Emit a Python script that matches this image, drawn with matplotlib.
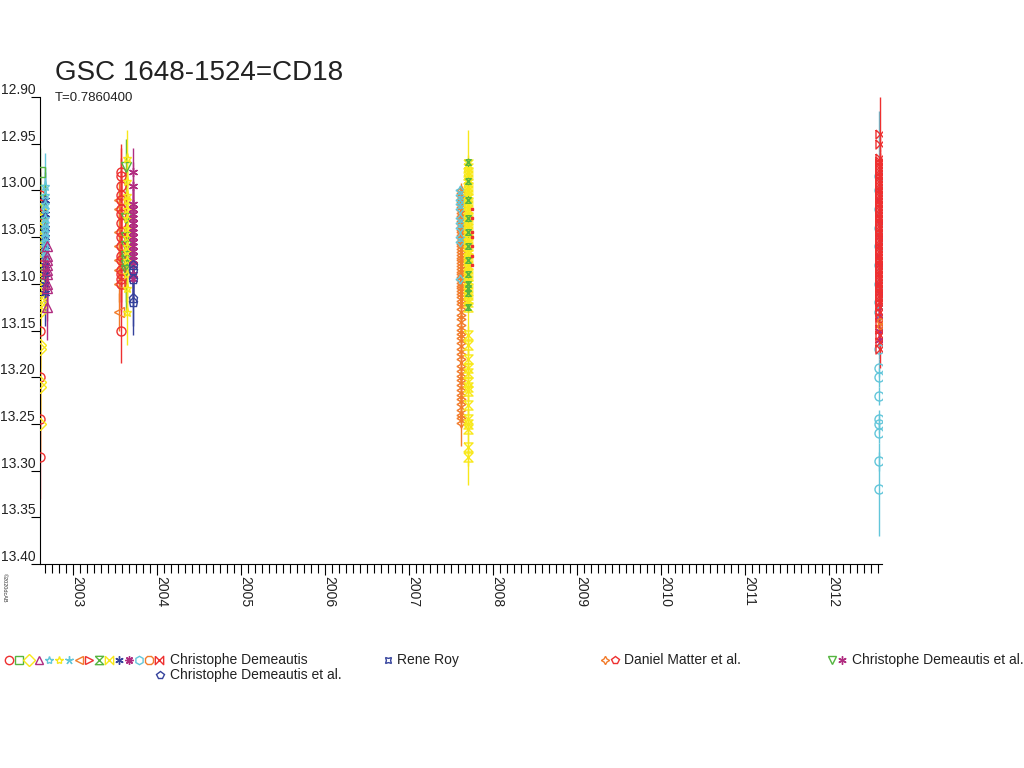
import matplotlib
matplotlib.use("Agg")
import matplotlib.pyplot as plt
import matplotlib.transforms as mtransforms
from matplotlib.lines import Line2D
from matplotlib.ticker import MultipleLocator, FixedLocator
from matplotlib.path import Path

plt.rcParams['font.family'] = ['Liberation Sans', 'DejaVu Sans']

TITLE = "GSC 1648-1524=CD18"
SUBTITLE = "T=0.7860400"
YTICKS = [12.90, 12.95, 13.00, 13.05, 13.10, 13.15, 13.20, 13.25, 13.30, 13.35, 13.40]
XYEARS = [2003, 2004, 2005, 2006, 2007, 2008, 2009, 2010, 2011, 2012]

# ---- colours
RED = '#ee3030'
GREEN = '#55b540'
YELLOW = '#f8e81a'
PURPLE = '#b02c80'
CYAN = '#62c6da'
BLUE = '#34429c'
ORANGE = '#f27c2c'

HOURGLASS = Path([(-1, 1), (1, 1), (-1, -1), (1, -1), (-1, 1)], closed=False)
BOWTIE = Path([(-1, 1), (-1, -1), (1, 1), (1, -1), (-1, 1)], closed=False)
ASTER = (6, 2, 0)
STAR4 = (4, 1, 0)

# ---- data: (date, magnitude, error) per series
# season 2002
c1_red_t = 2002.608
c1_red_m = [13.005, 13.015, 13.025, 13.035, 13.045, 13.06, 13.07, 13.09, 13.105, 13.15, 13.20, 13.245, 13.285]
c1_red_e = [0.03, 0.03, 0.03, 0.03, 0.03, 0.03, 0.03, 0.03, 0.03, 0.04, 0.04, 0.04, 0.045]

c1_grn_t = 2002.609
c1_grn_m = [12.98, 13.00, 13.01, 13.02, 13.035, 13.05, 13.06, 13.075, 13.09]
c1_grn_e = [0.025, 0.02, 0.02, 0.02, 0.02, 0.02, 0.02, 0.02, 0.02]

c1_yel_t = 2002.612
c1_yel_m = [13.02, 13.03, 13.04, 13.05, 13.055, 13.065, 13.075, 13.085, 13.095, 13.105,
            13.11, 13.115, 13.12, 13.125, 13.13, 13.165, 13.17, 13.205, 13.21, 13.25]
c1_yel_e = [0.025] * 15 + [0.03, 0.03, 0.03, 0.03, 0.03]

c1_blu_t = 2002.665
c1_blu_m = [13.01, 13.025, 13.04, 13.05, 13.06, 13.07, 13.08, 13.09, 13.10, 13.11]
c1_blu_e = [0.03, 0.03, 0.03, 0.03, 0.03, 0.03, 0.03, 0.03, 0.03, 0.035]

c1_cyn_t = 2002.672
c1_cyn_m = [12.995, 13.005, 13.015, 13.02, 13.03, 13.035, 13.04, 13.045, 13.05, 13.055, 13.06, 13.065, 13.07]
c1_cyn_e = [0.035, 0.03, 0.03, 0.03, 0.03, 0.03, 0.03, 0.03, 0.03, 0.03, 0.03, 0.03, 0.03]

c1_pur_t = 2002.69
c1_pur_m = [13.06, 13.07, 13.075, 13.08, 13.085, 13.09, 13.10, 13.105, 13.125]
c1_pur_e = [0.03, 0.03, 0.03, 0.03, 0.03, 0.03, 0.03, 0.035, 0.035]

# season 2003
c2_org_t = 2003.548
c2_org_m = [13.01, 13.02, 13.045, 13.06, 13.075, 13.085, 13.10, 13.13]
c2_org_e = [0.02] * 8

c2_red_t = 2003.57
c2_red_m = [12.98, 12.985, 12.995, 13.005, 13.01, 13.02, 13.025, 13.035, 13.045, 13.05,
            13.06, 13.07, 13.075, 13.085, 13.09, 13.095, 13.10, 13.15]
c2_red_e = [0.03] * 17 + [0.035]

c2_grn_t = 2003.625
c2_grn_m = [12.975, 13.03, 13.05, 13.06, 13.07, 13.075, 13.08, 13.085]
c2_grn_e = [0.03, 0.03, 0.03, 0.03, 0.03, 0.035, 0.04, 0.045]

c2_yel_t = 2003.645
c2_yel_m = [12.965, 12.99, 13.005, 13.01, 13.02, 13.03, 13.04, 13.05, 13.06, 13.065,
            13.075, 13.09, 13.105, 13.13]
c2_yel_e = [0.03] * 13 + [0.035]

c2_pur_t = 2003.712
c2_pur_m = [12.98, 12.995, 13.015, 13.02, 13.025, 13.03, 13.035, 13.04, 13.045, 13.05,
            13.055, 13.06, 13.065, 13.07, 13.075, 13.08, 13.09, 13.095]
c2_pur_e = [0.025] * 18

c2_blu_t = 2003.718
c2_blu_m = [13.08, 13.085, 13.095, 13.115, 13.12]
c2_blu_e = [0.03, 0.03, 0.03, 0.03, 0.035]

# season 2007
c3_cyn_t = 2007.606
c3_cyn_m = [13.00, 13.005, 13.01, 13.015, 13.02, 13.03, 13.035, 13.04, 13.05, 13.055, 13.095]
c3_cyn_e = [0.005] * 11

c3_org_t = 2007.622
c3_org_m = [13.000, 13.003, 13.006, 13.009, 13.012, 13.015, 13.018, 13.021, 13.024, 13.027,
            13.030, 13.033, 13.036, 13.039, 13.042, 13.045, 13.048, 13.051, 13.054, 13.057,
            13.060, 13.063, 13.066, 13.069, 13.072, 13.075, 13.078, 13.081, 13.084, 13.087,
            13.090, 13.093, 13.096, 13.099, 13.102, 13.105, 13.108, 13.111, 13.114, 13.118,
            13.122, 13.127, 13.133, 13.138, 13.144, 13.149, 13.154, 13.158, 13.163, 13.170,
            13.175, 13.181, 13.188, 13.193, 13.199, 13.203, 13.208, 13.214, 13.219, 13.223,
            13.229, 13.235, 13.240, 13.244, 13.249]
c3_org_e = [0.008] * 64 + [0.025]

c3_yel_t = 2007.705
c3_yel_m = [12.972, 12.976, 12.980, 12.984, 12.988, 12.992, 12.996, 13.000, 13.004, 13.008,
            13.012, 13.016, 13.020, 13.024, 13.028, 13.032, 13.036, 13.040, 13.044, 13.048,
            13.052, 13.056, 13.060, 13.064, 13.068, 13.072, 13.076, 13.080, 13.084, 13.088,
            13.092, 13.096, 13.100, 13.104, 13.108, 13.112, 13.116, 13.120, 13.125,
            13.155, 13.165, 13.18, 13.19, 13.195, 13.205, 13.21, 13.215, 13.23, 13.245,
            13.25, 13.255, 13.275, 13.285]
c3_yel_e = [0.01] * 38 + [0.19] + [0.01] * 14

c3_grn_t = 2007.705
c3_grn_m = [12.97, 12.99, 13.01, 13.03, 13.045, 13.06, 13.075, 13.09, 13.10, 13.105, 13.11, 13.125]
c3_grn_e = [0.005] * 12

c3_red_t = 2007.745
c3_red_m = [13.02, 13.03, 13.045, 13.05, 13.06, 13.07, 13.08]

# season 2012
c4_pur_t = 2012.594
c4_pur_m = [13.00, 13.01, 13.025, 13.035, 13.05, 13.06, 13.07, 13.08, 13.09, 13.10,
            13.11, 13.125, 13.135, 13.15, 13.16]
c4_pur_e = [0.01] * 15

c4_cyn_t = 2012.601
c4_cyn_m = [12.985, 13.00, 13.02, 13.04, 13.06, 13.08, 13.10, 13.12, 13.13,
            13.17, 13.19, 13.20, 13.22, 13.245, 13.25, 13.26, 13.29, 13.32]
c4_cyn_e = [0.07, 0.01, 0.01, 0.01, 0.01, 0.01, 0.01, 0.01, 0.01,
            0.01, 0.01, 0.01, 0.01, 0.01, 0.01, 0.01, 0.01, 0.05]

c4_red_t = 2012.607
c4_red_m = [12.94, 12.95, 12.965, 12.968, 12.971, 12.974, 12.977, 12.980, 12.983, 12.986,
            12.989, 12.992, 12.995, 12.998, 13.001, 13.004, 13.007, 13.010, 13.013, 13.016,
            13.019, 13.022, 13.025, 13.028, 13.031, 13.034, 13.037, 13.040, 13.043, 13.046,
            13.049, 13.052, 13.055, 13.058, 13.061, 13.064, 13.067, 13.070, 13.073, 13.076,
            13.079, 13.082, 13.085, 13.088, 13.091, 13.094, 13.097, 13.100, 13.103, 13.106,
            13.109, 13.112, 13.115, 13.118, 13.121, 13.125, 13.130, 13.136, 13.142, 13.148,
            13.155, 13.162, 13.17]
c4_red_e = [0.04] + [0.008] * 61 + [0.02]

c4_org_t = 2012.607
c4_org_m = [13.14, 13.145]
c4_org_e = [0.005, 0.005]

# ---- figure
fig = plt.figure(figsize=(10.24, 7.68), dpi=100)
ax = fig.add_axes([40 / 1024, (768 - 564) / 768, (882 - 40) / 1024, (564 - 97) / 768])

MS = 6.5
MEW = 1.0
ELW = 1.0


def series(t, m, e, color, marker, ms=MS):
    ax.errorbar([t] * len(m), m, yerr=e, fmt='none', ecolor=color, elinewidth=ELW, zorder=2)
    ax.plot([t] * len(m), m, linestyle='none', marker=marker, ms=ms, mfc='none',
            mec=color, mew=MEW, zorder=3)


series(c1_red_t, c1_red_m, c1_red_e, RED, 'o')
series(c1_grn_t, c1_grn_m, c1_grn_e, GREEN, 's')
series(c1_yel_t, c1_yel_m, c1_yel_e, YELLOW, 'D')
series(c1_blu_t, c1_blu_m, c1_blu_e, BLUE, ASTER)
series(c1_cyn_t, c1_cyn_m, c1_cyn_e, CYAN, '*')
series(c1_pur_t, c1_pur_m, c1_pur_e, PURPLE, '^')

series(c2_org_t, c2_org_m, c2_org_e, ORANGE, '<')
series(c2_red_t, c2_red_m, c2_red_e, RED, 'o')
series(c2_grn_t, c2_grn_m, c2_grn_e, GREEN, 'v')
series(c2_yel_t, c2_yel_m, c2_yel_e, YELLOW, '*')
series(c2_pur_t, c2_pur_m, c2_pur_e, PURPLE, ASTER)
series(c2_blu_t, c2_blu_m, c2_blu_e, BLUE, 'p')

series(c3_org_t, c3_org_m, c3_org_e, ORANGE, STAR4)
series(c3_cyn_t, c3_cyn_m, c3_cyn_e, CYAN, STAR4)
series(c3_yel_t, c3_yel_m, c3_yel_e, YELLOW, HOURGLASS)
series(c3_grn_t, c3_grn_m, c3_grn_e, GREEN, HOURGLASS, ms=4)
ax.plot([c3_red_t] * len(c3_red_m), c3_red_m, linestyle='none', marker='s', ms=1.5,
        mfc=RED, mec=RED, zorder=3)

series(c4_pur_t, c4_pur_m, c4_pur_e, PURPLE, ASTER)
series(c4_cyn_t, c4_cyn_m, c4_cyn_e, CYAN, 'o')
series(c4_red_t, c4_red_m, c4_red_e, RED, BOWTIE)
series(c4_org_t, c4_org_m, c4_org_e, ORANGE, 'o', ms=4)

# ---- axes styling
ax.set_xlim(2002.607, 2012.631)
ax.set_ylim(13.40, 12.90)
for s in ('top', 'right'):
    ax.spines[s].set_visible(False)
for s in ('left', 'bottom'):
    ax.spines[s].set_color('black')
    ax.spines[s].set_linewidth(0.8)

ax.yaxis.set_major_locator(FixedLocator(YTICKS))
ax.set_yticklabels([f"{v:.2f}" for v in YTICKS])
ax.tick_params(axis='y', direction='out', length=6.5, width=0.8, pad=-3,
               labelsize=10, labelcolor='#222222')
for lab in ax.get_yticklabels():
    lab.set_verticalalignment('bottom')

ax.xaxis.set_major_locator(FixedLocator(XYEARS))
ax.xaxis.set_minor_locator(MultipleLocator(1 / 12))
ax.set_xticklabels([str(y) for y in XYEARS], rotation=-90)
ax.tick_params(axis='x', which='major', direction='out', length=8, width=0.8, pad=1,
               labelsize=10, labelcolor='#222222')
ax.tick_params(axis='x', which='minor', direction='out', length=6.5, width=0.8)
shift = mtransforms.ScaledTranslation(-3 / 100, 0, fig.dpi_scale_trans)
for lab in ax.get_xticklabels():
    lab.set_horizontalalignment('left')
    lab.set_verticalalignment('top')
    lab.set_transform(lab.get_transform() + shift)

# ---- texts
fig.text(55 / 1024, 1 - 80 / 768, TITLE, fontsize=20, color='#222222', va='baseline')
fig.text(55 / 1024, 1 - 101 / 768, SUBTITLE, fontsize=9.5, color='#222222', va='baseline')
fig.text(2 / 1024, 1 - 573 / 768, '\u00a92020dcAB', fontsize=4, rotation=-90,
         color='#333333', va='top', ha='left')

# ---- legend (manual layout)
LEG1_MARKERS = [(RED, 'o'), (GREEN, 's'), (YELLOW, 'D'), (PURPLE, '^'), (CYAN, '*'),
                (YELLOW, '*'), (CYAN, (5, 2, 0)), (ORANGE, '<'), (RED, '>'), (GREEN, HOURGLASS),
                (YELLOW, BOWTIE), (BLUE, ASTER), (PURPLE, (8, 2, 0)), (CYAN, 'h'), (ORANGE, '8'),
                (RED, BOWTIE)]
LEG_NAMES = ["Christophe Demeautis", "Rene Roy", "Daniel Matter et al.",
             "Christophe Demeautis et al.", "Christophe Demeautis et al."]


def fig_marker(xpx, ypx, color, marker, ms=6):
    fig.add_artist(Line2D([xpx / 1024], [1 - ypx / 768], transform=fig.transFigure,
                          linestyle='none', marker=marker, ms=ms, mfc='none', mec=color, mew=1.0))


def fig_label(xpx, ypx, text):
    fig.text(xpx / 1024, 1 - ypx / 768, text, fontsize=10, color='#222222', va='center')


ROW1 = 660
ROW2 = 675
for i, (c, mk) in enumerate(LEG1_MARKERS):
    fig_marker(9 + 10 * i, ROW1, c, mk)
fig_label(170, ROW1, LEG_NAMES[0])
fig_marker(388, ROW1, BLUE, (4, 1, 45))
fig_label(397, ROW1, LEG_NAMES[1])
fig_marker(605, ROW1, ORANGE, STAR4)
fig_marker(615, ROW1, RED, 'p')
fig_label(624, ROW1, LEG_NAMES[2])
fig_marker(832, ROW1, GREEN, 'v')
fig_marker(842, ROW1, PURPLE, ASTER)
fig_label(852, ROW1, LEG_NAMES[3])
fig_marker(160, ROW2, BLUE, 'p')
fig_label(170, ROW2, LEG_NAMES[4])

fig.savefig('out.png', dpi=100)
